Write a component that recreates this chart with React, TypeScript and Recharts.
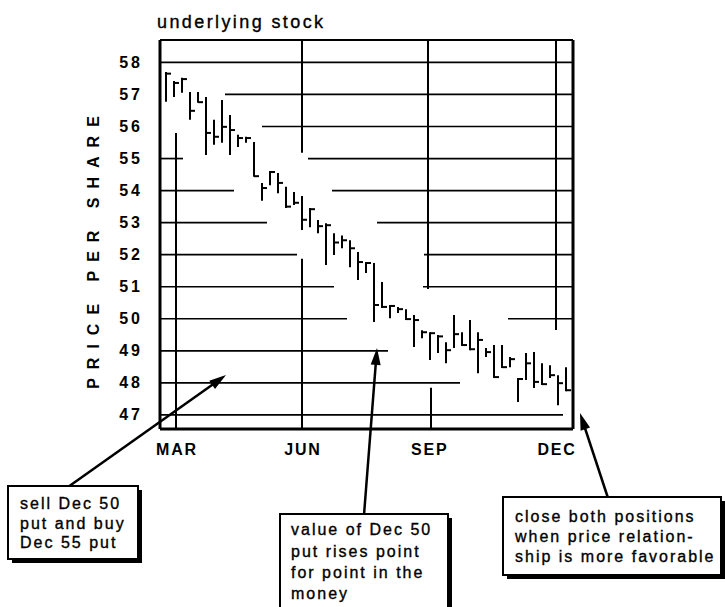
import React from 'react';
import { ComposedChart, Bar, XAxis, YAxis, ReferenceLine } from 'recharts';

// ---------- data ----------
const barIndex = [
  0, 1, 2, 3, 4, 5, 6, 7, 8, 9, 10, 11, 12, 13, 14, 15, 16, 17, 18, 19, 20, 21, 22, 23, 24, 25,
  26, 27, 28, 29, 30, 31, 32, 33, 34, 35, 36, 37, 38, 39, 40, 41, 42, 43, 44, 45, 46, 47, 48, 49, 50,
];
const highs = [
  57.7, 57.42, 57.52, 57.08, 57.08, 56.92, 56.21, 56.83, 56.36, 55.74, 55.68, 55.52, 54.24, 54.61,
  54.55, 54.12, 53.96, 53.83, 53.46, 53.08, 52.98, 52.67, 52.6, 52.45, 52.08, 51.77, 51.74, 51.15,
  50.43, 50.37, 50.3, 50.12, 49.64, 49.58, 49.49, 49.27, 50.12, 49.58, 49.96, 49.58, 49.09, 49.18,
  49.18, 48.81, 48.15, 48.93, 48.96, 48.61, 48.55, 48.24, 48.49,
];
const lows = [
  56.77, 56.92, 57.05, 56.21, 56.74, 55.11, 55.43, 55.49, 55.11, 55.36, 55.49, 54.43, 53.68, 54.17,
  53.92, 53.46, 53.55, 52.77, 52.86, 52.67, 51.68, 51.99, 52.2, 51.61, 51.21, 51.43, 49.9, 50.34,
  50.02, 50.18, 49.96, 49.12, 49.39, 48.71, 48.93, 48.61, 49.09, 49.15, 49.02, 48.3, 48.81, 48.15,
  48.46, 48.49, 47.4, 48.09, 47.84, 47.93, 48.15, 47.3, 47.74,
];
const closes = [
  57.65, 57.36, 57.48, 56.49, 56.76, 55.8, 55.68, 55.99, 55.89, 55.64, 55.64, 54.45, 54.08, 54.58,
  54.24, 53.5, 53.62, 53.09, 53.42, 52.89, 52.92, 52.38, 52.45, 52.2, 51.77, 51.74, 50.43, 50.37,
  50.4, 50.3, 49.99, 49.96, 49.58, 49.55, 49.45, 49.02, 49.52, 49.18, 49.05, 49.34, 48.96, 48.18,
  48.49, 48.74, 48.12, 48.61, 48.03, 47.96, 48.24, 47.99, 47.77,
];
const monthTicks = [1.25, 17, 32.85, 48.75];
const monthLabels = ['MAR', 'JUN', 'SEP', 'DEC'];
const priceTicks = [47, 48, 49, 50, 51, 52, 53, 54, 55, 56, 57, 58];

const chartData = barIndex.map((i, k) => ({
  i,
  range: [lows[k], highs[k]],
  high: highs[k],
  low: lows[k],
  close: closes[k],
}));

// ---------- layout / decoration ----------
const X_MIN = -0.75;
const X_MAX = 50.875;
const Y_MIN = 46.56;
const Y_MAX = 58.7;

// partial horizontal rules: [price, fromIndex, toIndex]
const hRules: [number, number, number][] = [
  [58, X_MIN, X_MAX],
  [57, 7.375, X_MAX],
  [56, 12, X_MAX],
  [55, X_MIN, 2.125],
  [55, 17.75, X_MAX],
  [54, X_MIN, 8.5],
  [54, 20.75, X_MAX],
  [53, X_MIN, 12.625],
  [53, 26.375, X_MAX],
  [52, X_MIN, 16.375],
  [52, 32.25, X_MAX],
  [51, X_MIN, 21],
  [51, 32.125, X_MAX],
  [50, X_MIN, 22.625],
  [50, 42.75, X_MAX],
  [49, X_MIN, 27.75],
  [48, X_MIN, 36.75],
  [47, X_MIN, 49.625],
];
// partial vertical rules: [index, fromPrice, toPrice]
const vRules: [number, number, number][] = [
  [1.25, Y_MIN, 55.8],
  [17, 55.18, Y_MAX],
  [17, Y_MIN, 51.87],
  [32.75, 50.93, Y_MAX],
  [33.125, Y_MIN, 47.85],
  [48.75, 49.65, Y_MAX],
];

const FONT = '"Liberation Sans", Arial, Helvetica, sans-serif';

const OhlcShape = (props: any) => {
  const { x, y, width, height, payload } = props;
  if (x == null || y == null || !payload) return null;
  const top = Math.min(y, y + height);
  const bottom = Math.max(y, y + height);
  const cx = x + width / 2;
  const span = payload.high - payload.low;
  const cy = span > 0 ? top + ((bottom - top) * (payload.high - payload.close)) / span : top;
  return (
    <g>
      <line x1={cx} y1={top} x2={cx} y2={bottom} stroke="#000" strokeWidth={2} />
      <line x1={cx} y1={cy} x2={cx + 5} y2={cy} stroke="#000" strokeWidth={2} />
    </g>
  );
};

const YTick = (props: any) => {
  const { x, y, payload } = props;
  return (
    <text
      x={x - 17}
      y={y + 5.5}
      textAnchor="end"
      fontFamily={FONT}
      fontWeight="bold"
      fontSize={16}
      letterSpacing={3}
      fill="#000"
    >
      {payload.value}
    </text>
  );
};

const XTick = (props: any) => {
  const { x, y, payload } = props;
  const idx = monthTicks.indexOf(payload.value);
  return (
    <text
      x={x + 1}
      y={y + 26}
      textAnchor="middle"
      fontFamily={FONT}
      fontWeight="bold"
      fontSize={16}
      letterSpacing={1.8}
      fill="#000"
    >
      {idx >= 0 ? monthLabels[idx] : ''}
    </text>
  );
};

const arrowPath = (x1: number, y1: number, x2: number, y2: number, len = 17, half = 5) => {
  const dx = x2 - x1;
  const dy = y2 - y1;
  const d = Math.sqrt(dx * dx + dy * dy);
  const ux = dx / d;
  const uy = dy / d;
  const bx = x2 - ux * len;
  const by = y2 - uy * len;
  const px = -uy * half;
  const py = ux * half;
  return {
    line: { x1, y1, x2: bx + ux * 2, y2: by + uy * 2 },
    head: `${x2},${y2} ${bx + px},${by + py} ${bx - px},${by - py}`,
  };
};

const Arrow = ({ x1, y1, x2, y2 }: { x1: number; y1: number; x2: number; y2: number }) => {
  const a = arrowPath(x1, y1, x2, y2);
  return (
    <g>
      <line {...a.line} stroke="#000" strokeWidth={2.5} />
      <polygon points={a.head} fill="#000" />
    </g>
  );
};

const Box = ({
  x,
  y,
  w,
  h,
  lines,
  tx,
  baselines,
}: {
  x: number;
  y: number;
  w: number;
  h: number;
  lines: string[];
  tx: number;
  baselines: number[];
}) => (
  <g>
    <rect x={x + 4} y={y + 4} width={w} height={h} fill="#000" />
    <rect x={x} y={y} width={w} height={h} fill="#fff" stroke="#000" strokeWidth={2} />
    {lines.map((t, k) => (
      <text
        key={k}
        x={tx}
        y={baselines[k]}
        fontFamily={FONT}
        fontSize={16}
        letterSpacing={2}
        fill="#000"
        stroke="#000"
        strokeWidth={0.35}
      >
        {t}
      </text>
    ))}
  </g>
);

export default function App() {
  return (
    <div
      style={{
        position: 'absolute',
        left: 0,
        top: 0,
        width: 725,
        height: 607,
        overflow: 'hidden',
        background: '#fff',
      }}
    >
      <ComposedChart
        width={725}
        height={607}
        data={chartData}
        margin={{ top: 40, right: 152, bottom: 148, left: 100 }}
      >
        <XAxis
          type="number"
          dataKey="i"
          domain={[X_MIN, X_MAX]}
          allowDataOverflow
          ticks={monthTicks}
          tick={<XTick />}
          tickLine={false}
          tickSize={0}
          tickMargin={0}
          height={30}
          axisLine={{ stroke: '#000', strokeWidth: 3 }}
        />
        <YAxis
          type="number"
          domain={[Y_MIN, Y_MAX]}
          allowDataOverflow
          ticks={priceTicks}
          tick={<YTick />}
          tickLine={false}
          tickSize={0}
          tickMargin={0}
          width={60}
          axisLine={{ stroke: '#000', strokeWidth: 3 }}
        />
        {hRules.map(([p, a, b], k) => (
          <ReferenceLine
            key={'h' + k}
            segment={[
              { x: a, y: p },
              { x: b, y: p },
            ]}
            stroke="#000"
            strokeWidth={1.7}
          />
        ))}
        {vRules.map(([i, a, b], k) => (
          <ReferenceLine
            key={'v' + k}
            segment={[
              { x: i, y: a },
              { x: i, y: b },
            ]}
            stroke="#000"
            strokeWidth={2}
          />
        ))}
        <ReferenceLine y={Y_MAX} stroke="#000" strokeWidth={2} />
        <ReferenceLine x={X_MAX} stroke="#000" strokeWidth={3} />
        <Bar dataKey="range" barSize={6} isAnimationActive={false} shape={<OhlcShape />} />
      </ComposedChart>
      <svg
        width={725}
        height={607}
        style={{ position: 'absolute', left: 0, top: 0, pointerEvents: 'none' }}
      >
        <text
          x={157}
          y={28}
          fontFamily={FONT}
          fontSize={18}
          letterSpacing={2.4}
          fill="#000"
          stroke="#000"
          strokeWidth={0.35}
        >
          underlying stock
        </text>
        <text
          x={0}
          y={0}
          transform="translate(99, 248) rotate(-90)"
          textAnchor="middle"
          fontFamily={FONT}
          fontWeight="bold"
          fontSize={16}
          letterSpacing={9}
          fill="#000"
        >
          PRICE PER SHARE
        </text>
        <Arrow x1={68} y1={487} x2={226} y2={375} />
        <Arrow x1={364} y1={515} x2={377} y2={348} />
        <Arrow x1={608} y1={498} x2={580} y2={413} />
        <Box
          x={8}
          y={486}
          w={130}
          h={73}
          tx={20}
          lines={['sell Dec 50', 'put and buy', 'Dec 55 put']}
          baselines={[509, 528.5, 548]}
        />
        <Box
          x={280}
          y={514}
          w={168}
          h={100}
          tx={291}
          lines={['value of Dec 50', 'put rises point', 'for point in the', 'money']}
          baselines={[535, 557, 578, 599]}
        />
        <Box
          x={503}
          y={497}
          w={218}
          h={78}
          tx={515}
          lines={['close both positions', 'when price relation-', 'ship is more favorable']}
          baselines={[522, 542, 562]}
        />
      </svg>
    </div>
  );
}
